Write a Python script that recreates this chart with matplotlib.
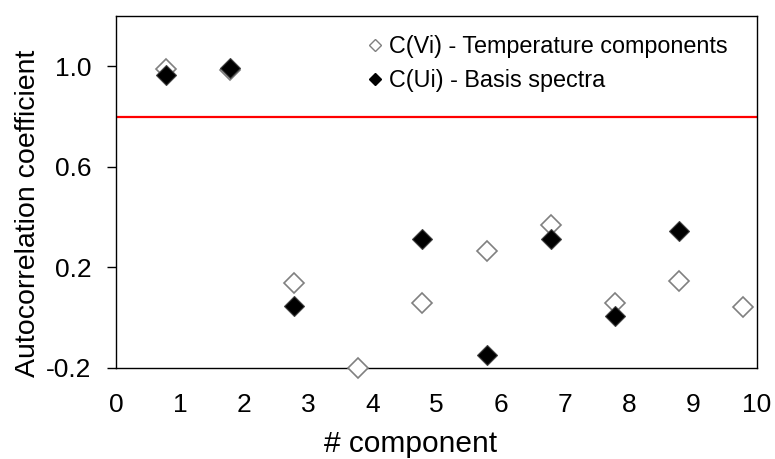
import matplotlib
matplotlib.use('Agg')
import matplotlib.pyplot as plt
from matplotlib.lines import Line2D

plt.rcParams['font.family'] = ['Liberation Sans', 'DejaVu Sans']

# component positions as plotted (slightly left of the integer ticks)
comp_x = [0.78, 1.78, 2.78, 3.78, 4.78, 5.78, 6.78, 7.78, 8.78, 9.78]
c_v = [0.99, 0.985, 0.14, -0.20, 0.06, 0.265, 0.37, 0.06, 0.148, 0.042]
comp_u = [0.78, 1.78, 2.78, 4.78, 5.78, 6.78, 7.78, 8.78]
c_u = [0.965, 0.992, 0.045, 0.313, -0.148, 0.315, 0.005, 0.343]
threshold = 0.8

xticks = list(range(0, 11))
yticks = [-0.2, 0.2, 0.6, 1.0]

fig = plt.figure(figsize=(7.75, 4.59), dpi=100)
ax = fig.add_axes([0.1497, 0.1983, 0.8271, 0.7667])

ax.axhline(threshold, color='#ff0000', lw=1.6, zorder=1)
ax.plot(comp_x, c_v, ls='none', marker='D', ms=10.5, mfc='white',
        mec='#808080', mew=1.2, zorder=3, clip_on=False)
ax.plot(comp_u, c_u, ls='none', marker='D', ms=10.5, mfc='black',
        mec='#404040', mew=0.8, zorder=4, clip_on=False)

ax.set_xlim(0, 10)
ax.set_ylim(-0.2, 1.2)
ax.set_xticks(xticks)
ax.set_yticks(yticks)
ax.set_yticklabels([f'{v:.1f}' for v in yticks])
ax.tick_params(axis='x', length=0, pad=18, labelsize=19)
ax.tick_params(axis='y', direction='out', length=6.5, width=1, pad=11, labelsize=19)
for s in ax.spines.values():
    s.set_color('black')
    s.set_linewidth(1.0)

ax.set_xlabel('# component', fontsize=21.5)
ax.set_ylabel('Autocorrelation coefficient', fontsize=20.5)
ax.xaxis.set_label_coords(0.46, -0.175)
ax.yaxis.set_label_coords(-0.117, 0.44)

handles = [
    Line2D([], [], ls='none', marker='D', ms=6, mfc='white', mec='#808080', mew=1.0),
    Line2D([], [], ls='none', marker='D', ms=6, mfc='black', mec='black'),
]
ax.legend(handles, ['C(Vi) - Temperature components', 'C(Ui) - Basis spectra'],
          loc='upper right', bbox_to_anchor=(0.984, 1.0), frameon=False,
          fontsize=16.8, handlelength=0.6, handletextpad=0.3, labelspacing=0.5,
          borderaxespad=0.4)

fig.savefig('out.png', dpi=100)
